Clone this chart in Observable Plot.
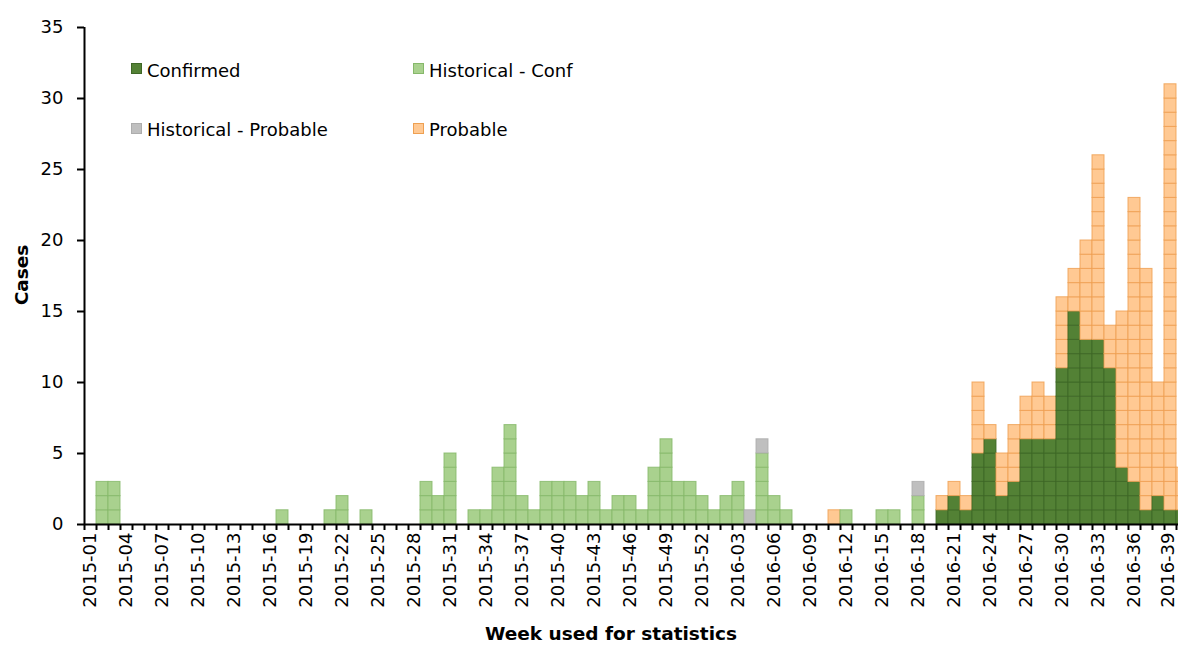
<!DOCTYPE html>
<html>
<head>
<meta charset="utf-8">
<script src="https://cdn.jsdelivr.net/npm/d3@7"></script>
<script src="https://cdn.jsdelivr.net/npm/@observablehq/plot@0.6"></script>
<style>
  html, body { margin: 0; padding: 0; background: #fff; overflow: hidden; }
  #wrap { position: relative; width: 1178px; height: 646px; overflow: hidden; font-family: "DejaVu Sans", Verdana, sans-serif; color: #000; }
  #wrap svg { max-width: none !important; position: absolute; left: 0; top: 0; }
  .ov { position: absolute; white-space: nowrap; line-height: 1; }
  .lg { font-size: 18px; }
  .sw { position: absolute; width: 11px; height: 11px; box-sizing: border-box; }
</style>
</head>
<body>
<div id="wrap"></div>
<script>
// ---- categories (week labels) ----
const weeks = [];
for (let w = 1; w <= 52; w++) weeks.push("2015-" + String(w).padStart(2, "0"));
for (let w = 1; w <= 40; w++) weeks.push("2016-" + String(w).padStart(2, "0"));

const tickLabels = [
  "2015-01","2015-04","2015-07","2015-10","2015-13","2015-16","2015-19","2015-22",
  "2015-25","2015-28","2015-31","2015-34","2015-37","2015-40","2015-43","2015-46",
  "2015-49","2015-52","2016-03","2016-06","2016-09","2016-12","2016-15","2016-18",
  "2016-21","2016-24","2016-27","2016-30","2016-33","2016-36"
];
const lastTickLabel = ["2016-39"];
const yTicks = [0, 5, 10, 15, 20, 25, 30, 35];

// ---- series values, one per week (2015-01 .. 2016-40) ----
const confirmed = [
  0,0,0,0,0,0,0,0,0,0,
  0,0,0,0,0,0,0,0,0,0,
  0,0,0,0,0,0,0,0,0,0,
  0,0,0,0,0,0,0,0,0,0,
  0,0,0,0,0,0,0,0,0,0,
  0,0,0,0,0,0,0,0,0,0,
  0,0,0,0,0,0,0,0,0,0,
  0,1,2,1,5,6,2,3,6,6,
  6,11,15,13,13,11,4,3,1,2,
  1,1
];
const historicalConf = [
  0,3,3,0,0,0,0,0,0,0,
  0,0,0,0,0,0,1,0,0,0,
  1,2,0,1,0,0,0,0,3,2,
  5,0,1,1,4,7,2,1,3,3,
  3,2,3,1,2,2,1,4,6,3,
  3,2,1,2,3,0,5,2,1,0,
  0,0,0,1,0,0,1,1,0,2,
  0,0,0,0,0,0,0,0,0,0,
  0,0,0,0,0,0,0,0,0,0,
  0,0
];
const historicalProbable = [
  0,0,0,0,0,0,0,0,0,0,
  0,0,0,0,0,0,0,0,0,0,
  0,0,0,0,0,0,0,0,0,0,
  0,0,0,0,0,0,0,0,0,0,
  0,0,0,0,0,0,0,0,0,0,
  0,0,0,0,0,1,1,0,0,0,
  0,0,0,0,0,0,0,0,0,1,
  0,0,0,0,0,0,0,0,0,0,
  0,0,0,0,0,0,0,0,0,0,
  0,0
];
const probable = [
  0,0,0,0,0,0,0,0,0,0,
  0,0,0,0,0,0,0,0,0,0,
  0,0,0,0,0,0,0,0,0,0,
  0,0,0,0,0,0,0,0,0,0,
  0,0,0,0,0,0,0,0,0,0,
  0,0,0,0,0,0,0,0,0,0,
  0,0,1,0,0,0,0,0,0,0,
  0,1,1,1,5,1,3,4,3,4,
  3,5,3,7,13,3,11,20,17,8,
  30,3
];

const seriesNames = ["Confirmed", "Historical - Conf", "Historical - Probable", "Probable"];
const seriesValues = [confirmed, historicalConf, historicalProbable, probable];
const fills = {"Confirmed": "#538135", "Historical - Conf": "#a9d18e", "Historical - Probable": "#bfbfbf", "Probable": "#ffc993"};
const strokes = {"Confirmed": "#3e6726", "Historical - Conf": "#86b86a", "Historical - Probable": "#adadad", "Probable": "#eea052"};

// one record per case, so each case is drawn as a stacked unit cell
const units = [];
weeks.forEach((wk, i) => {
  seriesNames.forEach((name, s) => {
    for (let k = 0; k < seriesValues[s][i]; k++) units.push({week: wk, type: name});
  });
});

const chart = Plot.plot({
  width: 1188,
  height: 646,
  marginLeft: 84,
  marginRight: 0,
  marginTop: 27,
  marginBottom: 122,
  style: {fontFamily: "DejaVu Sans, Verdana, sans-serif", fontSize: "18px", color: "#000", background: "transparent", maxWidth: "none"},
  x: {type: "band", domain: weeks, padding: 0},
  y: {domain: [0, 35]},
  color: {type: "identity"},
  marks: [
    Plot.barY(units, {
      x: "week", y: () => 1,
      fill: d => fills[d.type], stroke: d => strokes[d.type],
      strokeWidth: 1, strokeOpacity: 0.85
    }),
    Plot.ruleY([0], {stroke: "#000", strokeWidth: 2}),
    Plot.ruleX([weeks[0]], {x: d => d, y1: 0, y2: 35, dx: -6, stroke: "#000", strokeWidth: 2}),
    Plot.axisY({ticks: yTicks, tickSize: 7, tickPadding: 14, strokeWidth: 2, label: null}),
    Plot.axisX({ticks: weeks, tickSize: 6, tickFormat: () => "", dx: -6, strokeWidth: 2, label: null}),
    Plot.axisX({ticks: tickLabels, tickSize: 0, tickPadding: 8, tickRotate: -90, label: null}),
    Plot.axisX({ticks: lastTickLabel, tickSize: 0, tickPadding: 8, tickRotate: -90, dx: -2, label: null})
  ]
});
chart.style.maxWidth = "none";

const wrap = document.getElementById("wrap");
wrap.appendChild(chart);

function addText(txt, css, cls) {
  const el = document.createElement("div");
  el.className = "ov " + (cls || "");
  el.textContent = txt;
  Object.assign(el.style, css);
  wrap.appendChild(el);
  return el;
}
function addSwatch(left, top, name) {
  const el = document.createElement("div");
  el.className = "sw";
  el.style.left = left + "px";
  el.style.top = top + "px";
  el.style.background = fills[name];
  el.style.border = "1px solid " + strokes[name];
  wrap.appendChild(el);
}

// legend
const legendPos = [
  {name: "Confirmed", sx: 131, sy: 63, tx: 147, ty: 62},
  {name: "Historical - Conf", sx: 413, sy: 63, tx: 429, ty: 62},
  {name: "Historical - Probable", sx: 131, sy: 123, tx: 147, ty: 121},
  {name: "Probable", sx: 413, sy: 123, tx: 429, ty: 121}
];
legendPos.forEach(p => {
  addSwatch(p.sx, p.sy, p.name);
  addText(p.name, {left: p.tx + "px", top: p.ty + "px"}, "lg");
});

// axis titles
addText("Cases", {left: "22px", top: "275px", fontSize: "18.5px", fontWeight: "bold",
  transform: "translate(-50%, -50%) rotate(-90deg)"});
addText("Week used for statistics", {left: "611px", top: "625px", fontSize: "18.5px", fontWeight: "bold",
  transform: "translateX(-50%)"});
</script>
</body>
</html>
